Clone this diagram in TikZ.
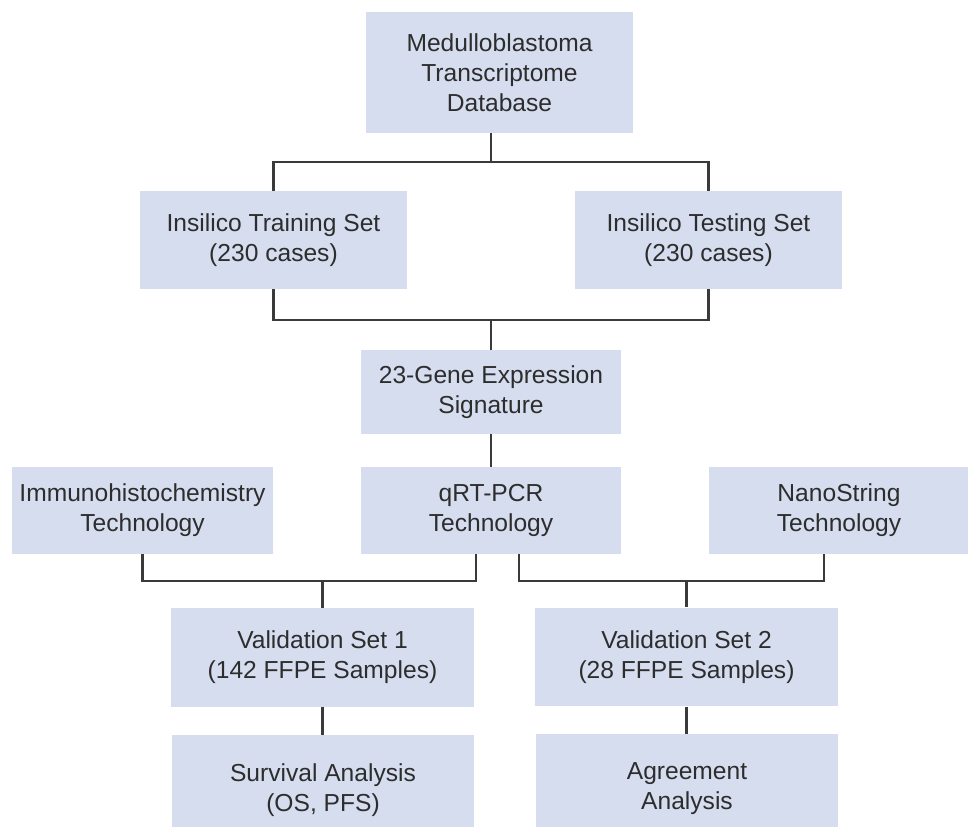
\documentclass[tikz,border=0pt]{standalone}
\usepackage{fontspec}
\setmainfont{Liberation Sans}
\usetikzlibrary{positioning,calc}
\definecolor{boxcolor}{RGB}{213, 221, 239}
\definecolor{linecolor}{RGB}{58, 58, 58}
\definecolor{textcolor}{RGB}{45, 45, 45}

\begin{document}
\begin{tikzpicture}[
        x=0.02cm, y=-0.02cm,
        box/.style={rectangle, fill=boxcolor, align=center, text=textcolor,
            inner sep=0pt, font=\fontsize{14}{17}\selectfont},
        conn/.style={draw=linecolor, line width=1.4pt}
    ]
        \useasboundingbox (0,0) rectangle (968,827);

        % Database
        \node[box, minimum width=5.34cm, minimum height=2.42cm] (db) at (499.5,72.5) {Medulloblastoma\\Transcriptome\\Database};

        % Insilico sets
        \node[box, minimum width=5.34cm, minimum height=1.96cm] (train) at (273.5,240) {Insilico Training Set\\(230 cases)};
        \node[box, minimum width=5.34cm, minimum height=1.96cm] (test) at (708.5,240) {Insilico Testing Set\\(230 cases)};

        % Signature
        \node[box, minimum width=5.2cm, minimum height=1.68cm] (gene) at (491,392) {23-Gene Expression\\Signature};

        % Technologies
        \node[box, minimum width=5.22cm, minimum height=1.74cm] (ihc) at (142.5,510.5) {Immunohistochemistry\\Technology};
        \node[box, minimum width=5.2cm, minimum height=1.74cm] (qrt) at (491,510.5) {qRT-PCR\\Technology};
        \node[box, minimum width=5.2cm, minimum height=1.74cm] (nano) at (839,510.5) {NanoString\\Technology};

        % Validation sets
        \node[box, minimum width=6.06cm, minimum height=1.98cm] (val1) at (322.5,657.5) {Validation Set 1\\(142 FFPE Samples)};
        \node[box, minimum width=6.06cm, minimum height=1.98cm] (val2) at (686.5,657) {Validation Set 2\\(28 FFPE Samples)};

        % Analyses
        \node[box, minimum width=6.06cm, minimum height=2.2cm] (surv) at (323,790) {Survival Analysis\\(OS, PFS)};
        \node[box, minimum width=6.06cm, minimum height=2.2cm] (agree) at (687,789) {Agreement\\Analysis};

        % Junctions
        \coordinate (j1) at (491,162);
        \coordinate (j2) at (491,320);
        \coordinate (q1) at (476,581);
        \coordinate (q2) at (519,581);
        \coordinate (n1) at (824,581);

        % Connections
        \draw[conn] (db.south -| j1) -- (j1);
        \draw[conn] (train.north) |- (j1) -| (test.north);
        \draw[conn] (train.south) |- (j2) -| (test.south);
        \draw[conn] (j2) -- (gene.north -| j2);
        \draw[conn] (gene) -- (qrt);
        \draw[conn] (ihc.south) |- (q1) -- (q1 |- qrt.south);
        \draw[conn] (val1.north) -- (val1.north |- q1);
        \draw[conn] (q2 |- qrt.south) -- (q2) -- (n1) -- (n1 |- nano.south);
        \draw[conn] (val2.north) -- (val2.north |- q2);
        \draw[conn] (val1.south) -- (surv.north -| val1.south);
        \draw[conn] (val2.south) -- (agree.north -| val2.south);

    \end{tikzpicture}
\end{document}
